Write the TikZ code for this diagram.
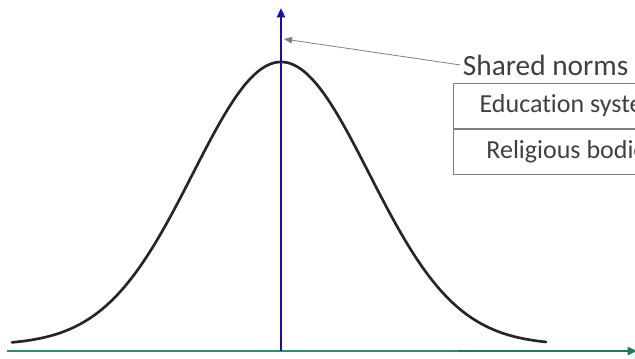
\documentclass[tikz,border=0pt]{standalone}
\usepackage{fontspec}
\setmainfont{Carlito}[Ligatures=NoCommon]
\usepackage{xcolor}
\usepackage{tikz}
\usetikzlibrary{arrows.meta,positioning,calc}

\definecolor{axisblue}{HTML}{1212A8}
\definecolor{basegreen}{HTML}{2B8D75}
\definecolor{basedark}{HTML}{1C7A5D}
\definecolor{labelgray}{HTML}{404040}
\definecolor{linegray}{HTML}{7F7F7F}

\begin{document}
\begin{tikzpicture}[
  x=0.75pt, y=-0.75pt,
  yaxis/.style={axisblue, line width=1.6pt, -{Triangle[length=7pt,width=6pt]}},
  xaxis/.style={line width=2pt},
  bell/.style={black!85, line width=2pt, line cap=round},
  pointer/.style={linegray, line width=0.6pt, -{Triangle[length=6pt,width=5pt]}},
  cell/.style={draw=linegray, line width=0.8pt, minimum width=236*0.75pt, minimum height=45*0.75pt, inner sep=0pt, font=\fontsize{19.5}{22}\selectfont, text=labelgray},
  title/.style={font=\fontsize{22}{26}\selectfont, text=labelgray, inner sep=2pt}
]
\useasboundingbox (0,0) rectangle (635,358);

% axes
\coordinate (origin) at (281,351);
\coordinate (ytip) at (281,8);
\coordinate (xstart) at (7,351);
\coordinate (xmid) at (458,351);
\coordinate (xend) at (637,351);

\draw[bell] plot[domain=12:546, samples=120, smooth]
  (\x, {345-283*exp(-0.5*((\x-281)/88)^2)});

\draw[xaxis, basegreen] (xstart) -- (xmid);
\draw[xaxis, basedark, -{Triangle[length=7pt,width=6pt]}] (xmid) -- (xend);
\draw[yaxis] (origin) -- (ytip);

% label and table
\node[title, anchor=base west] (shared) at (460,75) {Shared norms};
\node[cell, anchor=north west] (edu) at (453,83) {Education system};
\node[cell, below=0pt of edu] (rel) {Religious bodies};

\coordinate (normpt) at (284,39);
\draw[pointer] (shared.west) -- (normpt);

\end{tikzpicture}
\end{document}
